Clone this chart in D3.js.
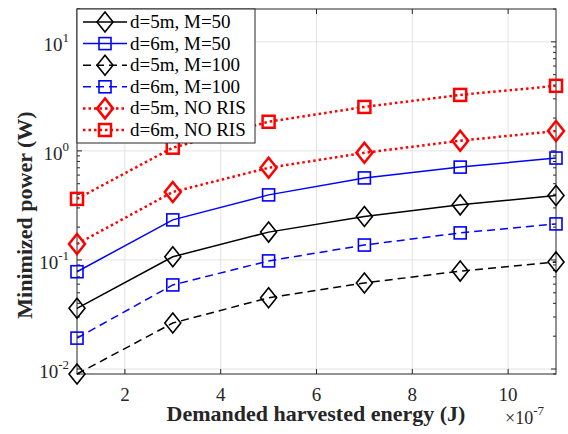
<!DOCTYPE html>
<html>
<head>
<meta charset="utf-8">
<script src="https://cdn.jsdelivr.net/npm/d3@7"></script>
<style>
  html, body { margin: 0; background: #fff; overflow: hidden; }
  svg { display: block; }
</style>
</head>
<body>
<div id="chart"></div>
<script>
const width = 568;
const height = 434;
const margin = {top: 9, right: 12, bottom: 60, left: 77};
const innerWidth = width - margin.left - margin.right;
const innerHeight = height - margin.top - margin.bottom;
const fontFamily = "'Liberation Serif', 'Times New Roman', Times, 'Nimbus Roman', 'Noto Serif', 'DejaVu Serif', serif";

// Data (x in units of 1e-7 J)
const energy = [1, 3, 5, 7, 9, 11];
const d5M50 = [0.036, 0.107, 0.18, 0.25, 0.32, 0.39];
const d6M50 = [0.078, 0.233, 0.395, 0.565, 0.71, 0.86];
const d5M100 = [0.009, 0.0264, 0.045, 0.0615, 0.079, 0.096];
const d6M100 = [0.0192, 0.059, 0.098, 0.137, 0.177, 0.214];
const d5NoRis = [0.14, 0.42, 0.70, 0.96, 1.24, 1.52];
const d6NoRis = [0.363, 1.07, 1.85, 2.53, 3.26, 3.95];
const xTicks = [2, 4, 6, 8, 10];
const yTicks = [-2, -1, 0, 1];

const series = [
  {name: "d=5m, M=50", values: d5M50, color: "#000", dash: null, marker: "diamond", lw: 1.5},
  {name: "d=6m, M=50", values: d6M50, color: "#0000ff", dash: null, marker: "square", lw: 1.5},
  {name: "d=5m, M=100", values: d5M100, color: "#000", dash: "8,5", marker: "diamond", lw: 1.5},
  {name: "d=6m, M=100", values: d6M100, color: "#0000ff", dash: "8,5", marker: "square", lw: 1.5},
  {name: "d=5m, NO RIS", values: d5NoRis, color: "#ff0000", dash: "2.5,3", marker: "diamond", lw: 2.5},
  {name: "d=6m, NO RIS", values: d6NoRis, color: "#ff0000", dash: "2.5,3", marker: "square", lw: 2.5}
];

const svg = d3.select("#chart")
  .append("svg")
    .attr("width", width)
    .attr("height", height)
    .style("font-family", fontFamily);

const innerChart = svg
  .append("g")
    .attr("transform", `translate(${margin.left}, ${margin.top})`);

// Scales
const xScale = d3.scaleLinear()
  .domain([1, 11])
  .range([0, innerWidth]);

const yScale = d3.scaleLog()
  .domain([0.009, 20])
  .range([innerHeight, 0]);

// Grid
innerChart.append("g")
  .selectAll("line")
  .data(xTicks)
  .join("line")
    .attr("x1", d => xScale(d)).attr("x2", d => xScale(d))
    .attr("y1", 0).attr("y2", innerHeight)
    .attr("stroke", "#e3e3e3");
innerChart.append("g")
  .selectAll("line")
  .data(yTicks)
  .join("line")
    .attr("x1", 0).attr("x2", innerWidth)
    .attr("y1", d => yScale(Math.pow(10, d))).attr("y2", d => yScale(Math.pow(10, d)))
    .attr("stroke", "#e3e3e3");

// Minor log ticks
const minor = [];
[-3, -2, -1, 0, 1].forEach(e => {
  for (let k = 2; k <= 9; k++) {
    const v = k * Math.pow(10, e);
    if (v >= 0.009 && v <= 20) minor.push(v);
  }
});

const axisColor = "#262626";
const yAxes = innerChart.append("g");
[0, innerWidth].forEach((x0, i) => {
  const dir = i === 0 ? 1 : -1;
  yAxes.append("g").selectAll("line")
    .data(minor)
    .join("line")
      .attr("x1", x0).attr("x2", x0 + dir * 3)
      .attr("y1", d => yScale(d)).attr("y2", d => yScale(d))
      .attr("stroke", axisColor);
  yAxes.append("g").selectAll("line")
    .data(yTicks)
    .join("line")
      .attr("x1", x0).attr("x2", x0 + dir * 5)
      .attr("y1", d => yScale(Math.pow(10, d))).attr("y2", d => yScale(Math.pow(10, d)))
      .attr("stroke", axisColor);
});
[innerHeight, 0].forEach((y0, i) => {
  const dir = i === 0 ? -1 : 1;
  innerChart.append("g").selectAll("line")
    .data(xTicks)
    .join("line")
      .attr("x1", d => xScale(d)).attr("x2", d => xScale(d))
      .attr("y1", y0).attr("y2", y0 + dir * 5)
      .attr("stroke", axisColor);
});

// Box
innerChart.append("rect")
  .attr("width", innerWidth).attr("height", innerHeight)
  .attr("fill", "none").attr("stroke", axisColor).attr("stroke-width", 1);

// Tick labels
innerChart.append("g").selectAll("text")
  .data(xTicks)
  .join("text")
    .attr("x", d => xScale(d))
    .attr("y", innerHeight + 27)
    .attr("text-anchor", "middle")
    .attr("font-size", 19)
    .attr("fill", "#262626")
    .text(d => d);

const yLabels = innerChart.append("g").selectAll("text")
  .data(yTicks)
  .join("text")
    .attr("x", -8)
    .attr("y", d => yScale(Math.pow(10, d)) + 9)
    .attr("text-anchor", "end")
    .attr("font-size", 19)
    .attr("fill", "#262626");
yLabels.append("tspan").text("10");
yLabels.append("tspan")
  .attr("dy", -9)
  .attr("font-size", 13)
  .text(d => d);

// Axis titles
svg.append("text")
  .attr("x", 316)
  .attr("y", 421)
  .attr("text-anchor", "middle")
  .attr("font-size", 22)
  .attr("font-weight", "bold")
  .attr("fill", "#262626")
  .text("Demanded harvested energy (J)");

const expLabel = svg.append("text")
  .attr("x", 505)
  .attr("y", 424)
  .attr("font-size", 18)
  .attr("fill", "#262626");
expLabel.append("tspan").text("\u00d710");
expLabel.append("tspan").attr("dy", -9).attr("font-size", 13).text("-7");

svg.append("text")
  .attr("transform", `translate(32, 215) rotate(-90)`)
  .attr("text-anchor", "middle")
  .attr("font-size", 22)
  .attr("font-weight", "bold")
  .attr("fill", "#262626")
  .text("Minimized power (W)");

// Markers
const drawMarker = (g, type, color, sw) => {
  if (type === "diamond") {
    g.append("path")
      .attr("d", "M0,-10 L8,0 L0,10 L-8,0 Z")
      .attr("fill", "none").attr("stroke", color).attr("stroke-width", sw);
  } else {
    g.append("rect")
      .attr("x", -6).attr("y", -6).attr("width", 12).attr("height", 12)
      .attr("fill", "none").attr("stroke", color).attr("stroke-width", sw);
  }
};

// Lines
const line = d3.line()
  .x((d, i) => xScale(energy[i]))
  .y(d => yScale(d));

series.forEach(s => {
  innerChart.append("path")
    .attr("d", line(s.values))
    .attr("fill", "none")
    .attr("stroke", s.color)
    .attr("stroke-width", s.lw)
    .attr("stroke-dasharray", s.dash);
  s.values.forEach((v, i) => {
    const g = innerChart.append("g")
      .attr("transform", `translate(${xScale(energy[i])}, ${yScale(v)})`);
    drawMarker(g, s.marker, s.color, s.lw === 2.5 ? 2.5 : 1.6);
  });
});

// Legend
const legend = innerChart.append("g");
legend.append("rect")
  .attr("x", 0).attr("y", 0).attr("width", 178).attr("height", 134)
  .attr("fill", "#fff").attr("stroke", axisColor).attr("stroke-width", 1);
series.forEach((s, i) => {
  const y = 13 + i * 21.6;
  const g = legend.append("g").attr("transform", `translate(0, ${y})`);
  g.append("line")
    .attr("x1", 6).attr("x2", 50)
    .attr("stroke", s.color)
    .attr("stroke-width", s.lw)
    .attr("stroke-dasharray", s.dash);
  const m = g.append("g").attr("transform", "translate(28, 0)");
  drawMarker(m, s.marker, s.color, s.lw === 2.5 ? 2.5 : 1.6);
  g.append("text")
    .attr("x", 53).attr("y", 6)
    .attr("font-size", 19)
    .attr("fill", "#000")
    .text(s.name);
});
</script>
</body>
</html>
